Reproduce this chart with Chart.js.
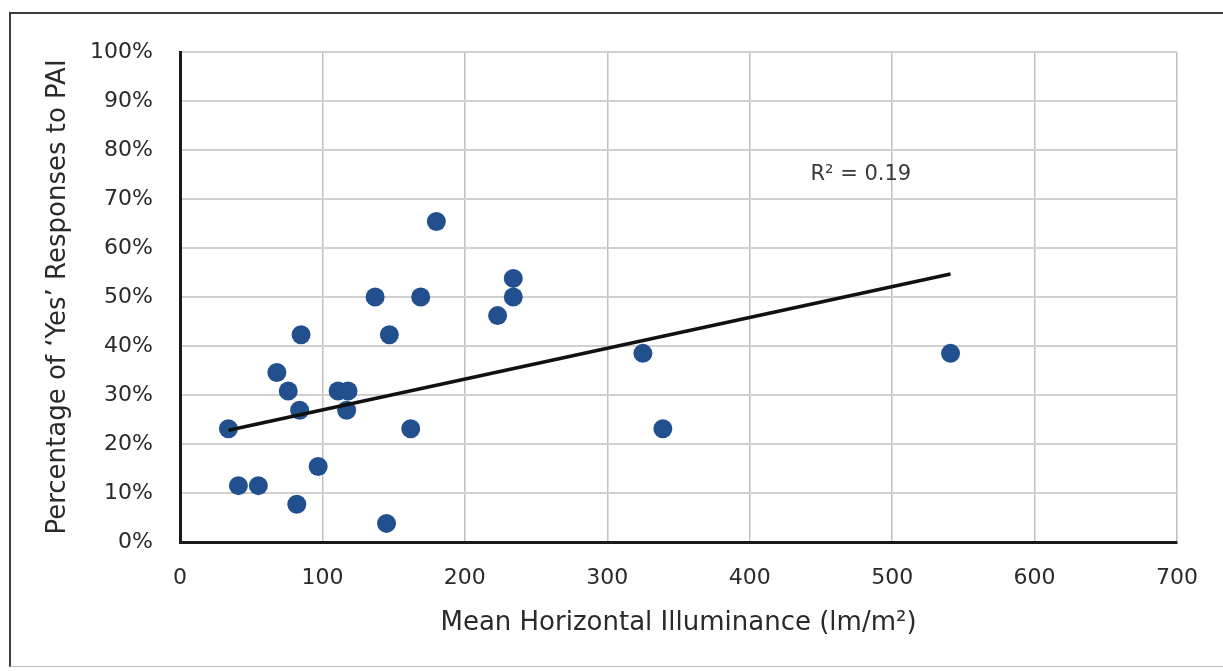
<!DOCTYPE html>
<html>
<head>
<meta charset="utf-8">
<script src="https://cdn.jsdelivr.net/npm/chart.js@4.4.1/dist/chart.umd.min.js"></script>
<style>
  html, body { margin: 0; padding: 0; background: #fff; overflow: hidden; }
  #wrap { position: relative; width: 1223px; height: 671px; overflow: hidden; }
  #frame {
    position: absolute; left: 9px; top: 12px; width: 1230px; height: 655px;
    border-top: 2px solid #3c3c3c; border-left: 2px solid #3c3c3c; border-bottom: 1px solid #b8b8b8;
    box-sizing: border-box; pointer-events: none;
  }
  canvas { position: absolute; left: 0; top: 0; }
</style>
</head>
<body>
<div id="wrap">
  <canvas id="chart" width="1223" height="671"></canvas>
  <div id="frame"></div>
</div>
<script>
// illuminance (lm/m2) and share of 'yes' answers
var illuminance = [34, 41, 55, 68, 76, 82, 84, 85, 97, 111, 118, 117,
                   137, 145, 147, 162, 169, 180, 223, 234, 234, 325, 339, 541];
var yesShare = [0.231, 0.115, 0.115, 0.346, 0.308, 0.077, 0.269, 0.423, 0.154, 0.308, 0.308, 0.269,
                0.500, 0.038, 0.423, 0.231, 0.500, 0.654, 0.462, 0.538, 0.500, 0.385, 0.231, 0.385];

// linear trendline end points as drawn
var trendX = [34, 541];
var trendY = [0.228, 0.547];

var xTicks = [0, 100, 200, 300, 400, 500, 600, 700];
var yTicks = [0, 0.1, 0.2, 0.3, 0.4, 0.5, 0.6, 0.7, 0.8, 0.9, 1.0];

var rSquaredText = 'R\u00b2 = 0.19';
var rSquaredAt = { x: 478, y: 0.75 };

var font = 'DejaVu Sans';
var textColor = '#2a2a2a';

var pairs = function (xs, ys) {
  var out = [];
  for (var i = 0; i < xs.length; i++) {
    out.push({ x: xs[i], y: ys[i] });
  }
  return out;
};

var rSquaredLabel = {
  id: 'rSquaredLabel',
  afterDatasetsDraw: function (chart) {
    var ctx = chart.ctx;
    ctx.save();
    ctx.font = '21px "' + font + '"';
    ctx.fillStyle = '#3a3a3a';
    ctx.textAlign = 'center';
    ctx.textBaseline = 'middle';
    ctx.fillText(rSquaredText,
      chart.scales.x.getPixelForValue(rSquaredAt.x),
      chart.scales.y.getPixelForValue(rSquaredAt.y));
    ctx.restore();
  }
};

new Chart(document.getElementById('chart').getContext('2d'), {
  type: 'scatter',
  data: {
    datasets: [
      {
        type: 'line',
        data: pairs(trendX, trendY),
        borderColor: '#111',
        borderWidth: 3.5,
        pointRadius: 0,
        fill: false,
        order: 0
      },
      {
        data: pairs(illuminance, yesShare),
        backgroundColor: '#22508e',
        borderColor: '#22508e',
        borderWidth: 0,
        pointRadius: 9.5,
        order: 1
      }
    ]
  },
  plugins: [rSquaredLabel],
  options: {
    responsive: false,
    animation: false,
    layout: { padding: { left: 0, top: 52, right: 46, bottom: 0 } },
    plugins: {
      legend: { display: false },
      tooltip: { enabled: false }
    },
    scales: {
      x: {
        type: 'linear',
        min: 0,
        max: 700,
        afterBuildTicks: function (scale) {
          scale.ticks = xTicks.map(function (v) { return { value: v }; });
        },
        afterFit: function (scale) { scale.height = 129; },
        grid: { color: '#c0c0c0', lineWidth: 1.5, drawTicks: false },
        border: { color: '#1a1a1a', width: 3 },
        ticks: {
          padding: 23,
          color: textColor,
          font: { family: font, size: 22 }
        },
        title: {
          display: true,
          text: 'Mean Horizontal Illuminance (lm/m\u00b2)',
          color: textColor,
          font: { family: font, size: 26 },
          padding: { top: 0, bottom: 32 }
        }
      },
      y: {
        type: 'linear',
        min: 0,
        max: 1,
        afterBuildTicks: function (scale) {
          scale.ticks = yTicks.map(function (v) { return { value: v }; });
        },
        afterFit: function (scale) { scale.width = 180; },
        grid: { color: '#d0d0d0', lineWidth: 2, drawTicks: false },
        border: { color: '#1a1a1a', width: 3 },
        ticks: {
          padding: 27,
          color: textColor,
          font: { family: font, size: 22 },
          callback: function (v) { return Math.round(v * 100) + '%'; }
        },
        title: {
          display: true,
          text: 'Percentage of \u2018Yes\u2019 Responses to PAI',
          color: textColor,
          font: { family: font, size: 26 },
          padding: { top: 43, bottom: 0 }
        }
      }
    }
  }
});
</script>
</body>
</html>
